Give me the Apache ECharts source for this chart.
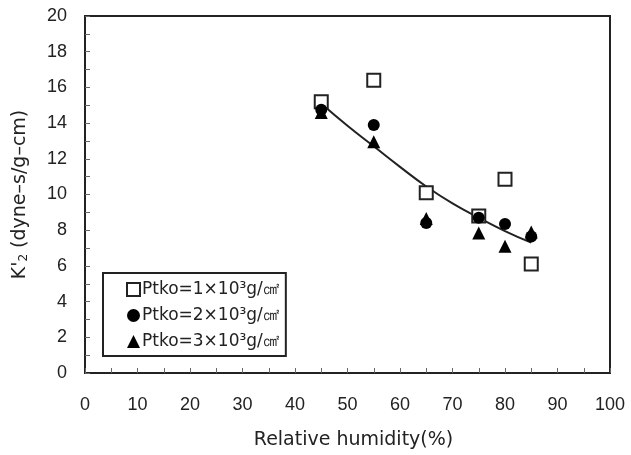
<!DOCTYPE html>
<html><head><meta charset="utf-8">
<script src="https://cdn.jsdelivr.net/npm/echarts@6/dist/echarts.min.js"></script>
<style>html,body{margin:0;padding:0;background:#fff}#c{width:631px;height:455px}</style>
</head><body><div id="c"></div>
<script>
const humidity = [45, 55, 65, 75, 80, 85];
const k2_p1 = [15.2, 16.4, 10.1, 8.8, 10.85, 6.1];
const k2_p2 = [14.75, 13.9, 8.4, 8.7, 8.35, 7.65];
const k2_p3 = [14.6, 12.95, 8.65, 7.85, 7.1, 7.9];
const fitX = [45, 50, 55, 60, 65, 70, 75, 80, 85];
const fitY = [15.1, 13.85, 12.7, 11.55, 10.45, 9.5, 8.7, 7.95, 7.3];
const seriesNames = ['Ptko=1×10³g/㎠', 'Ptko=2×10³g/㎠', 'Ptko=3×10³g/㎠'];
const xLabelStep = 10, yLabelStep = 2;

const tickFont = 'Liberation Sans, Arial, sans-serif';
const nameFont = 'DejaVu Sans, sans-serif';
const pair = (xs, ys) => xs.map((x, i) => [x, ys[i]]);
const chart = echarts.init(document.getElementById('c'));
chart.setOption({
  animation: false,
  backgroundColor: '#fff',
  grid: { left: 85, right: 21, top: 16, bottom: 82, show: true, borderColor: '#222', borderWidth: 2, backgroundColor: 'transparent' },
  legend: {
    orient: 'vertical', left: 103, top: 273,
    borderColor: '#222', borderWidth: 2, padding: [8, 6, 6, 23],
    itemWidth: 13, itemHeight: 13, itemGap: 9,
    textStyle: { fontFamily: nameFont, fontSize: 17, color: '#222', padding: [0, 0, 0, -3] },
    data: seriesNames
  },
  xAxis: {
    type: 'value', min: 0, max: 100, interval: 5,
    name: 'Relative humidity(%)', nameLocation: 'middle', nameGap: 58,
    nameTextStyle: { fontFamily: nameFont, fontSize: 19, color: '#222', padding: [0, 0, 0, 12] },
    axisLine: { lineStyle: { color: '#222', width: 2 } },
    axisTick: { show: true, inside: true, length: 5, lineStyle: { color: '#666' } },
    splitLine: { show: false },
    axisLabel: { fontFamily: tickFont, fontSize: 18, color: '#222', margin: 23,
      formatter: v => (v % xLabelStep === 0 ? String(v) : '') }
  },
  yAxis: {
    type: 'value', min: 0, max: 20, interval: 1,
    name: "K'{sub|2} (dyne–s/g–cm)", nameLocation: 'middle', nameGap: 55,
    nameTextStyle: { fontFamily: nameFont, fontSize: 19, color: '#222',
      rich: { sub: { fontFamily: nameFont, fontSize: 12, color: '#222', padding: [8, 0, 0, 0] } } },
    axisLine: { lineStyle: { color: '#222', width: 2 } },
    axisTick: { show: true, inside: true, length: 5, lineStyle: { color: '#666' } },
    splitLine: { show: false },
    axisLabel: { fontFamily: tickFont, fontSize: 18, color: '#222', margin: 18,
      formatter: v => (v % yLabelStep === 0 ? String(v) : '') }
  },
  series: [
    { type: 'line', name: 'fit', data: pair(fitX, fitY), smooth: true, showSymbol: false, symbol: 'none',
      lineStyle: { color: '#222', width: 2 }, z: 1 },
    { type: 'scatter', name: seriesNames[0], data: pair(humidity, k2_p1), symbol: 'rect', symbolSize: 13,
      itemStyle: { color: '#fff', borderColor: '#222', borderWidth: 2, opacity: 1 }, z: 3 },
    { type: 'scatter', name: seriesNames[1], data: pair(humidity, k2_p2), symbol: 'circle', symbolSize: 12,
      itemStyle: { color: '#000', opacity: 1 }, z: 4 },
    { type: 'scatter', name: seriesNames[2], data: pair(humidity, k2_p3), symbol: 'triangle', symbolSize: 13,
      itemStyle: { color: '#000', opacity: 1 }, z: 5 }
  ]
});
</script></body></html>
